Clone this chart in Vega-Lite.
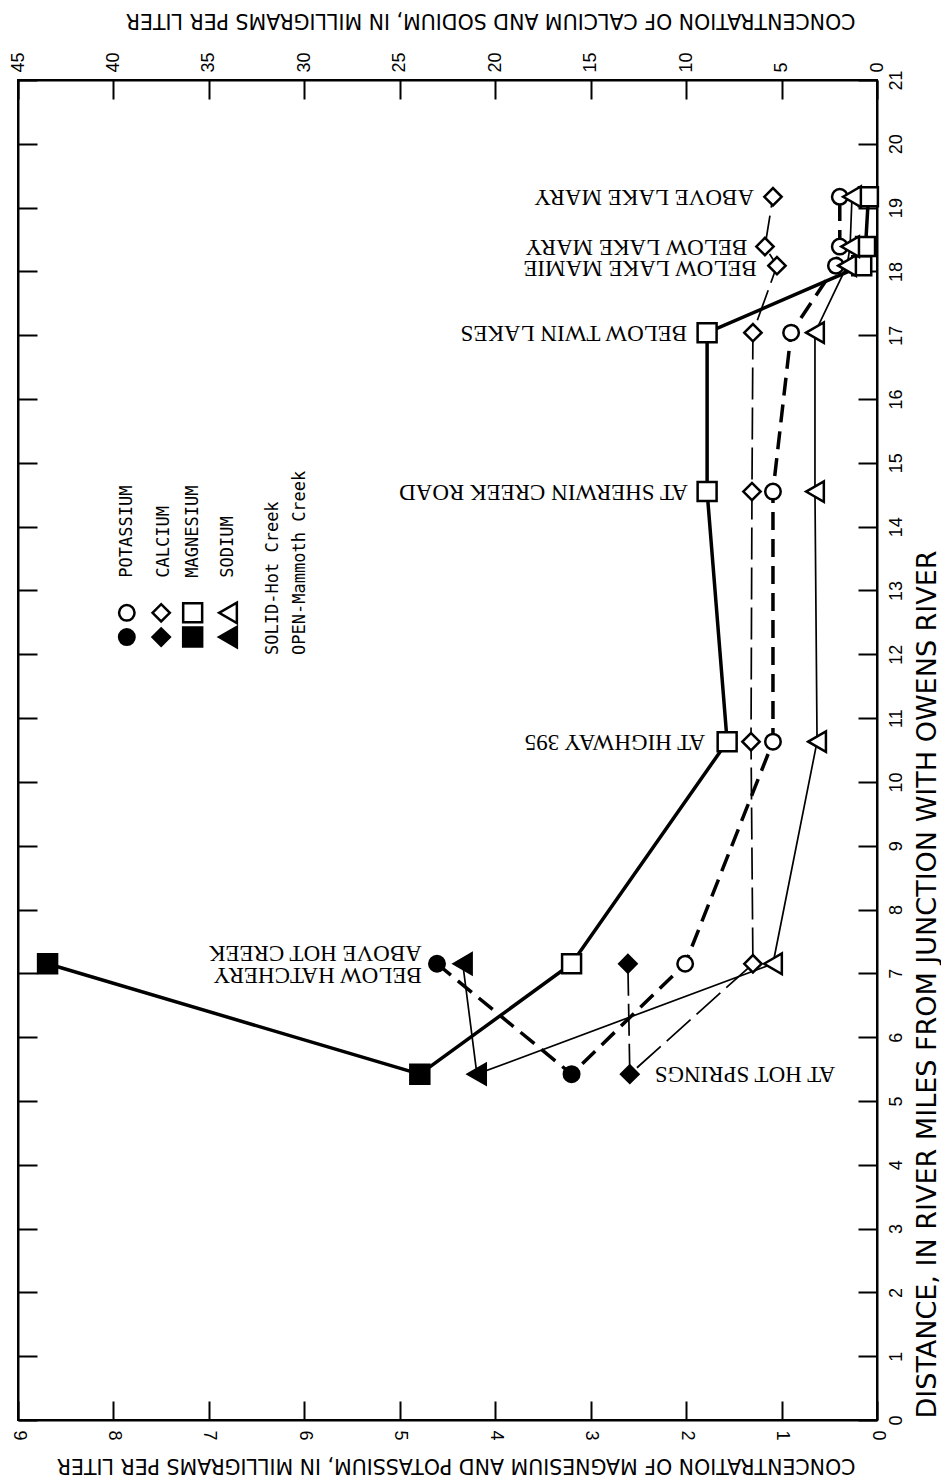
{
  "$schema": "https://vega.github.io/schema/vega-lite/v6.json",
  "width": 859,
  "height": 1340,
  "autosize": {"type": "none"},
  "padding": {"left": 18, "top": 80, "right": 64, "bottom": 60},
  "background": "white",
  "config": {
    "view": {"stroke": "black", "strokeWidth": 2},
    "axis": {
      "grid": false,
      "domainColor": "black",
      "domainWidth": 2,
      "tickColor": "black",
      "tickWidth": 2,
      "labelFont": "Liberation Sans",
      "labelFontSize": 18,
      "labelColor": "black",
      "format": "d",
      "titleFont": "DejaVu Sans",
      "titleFontSize": 20.5,
      "titleFontWeight": "normal",
      "titleColor": "black"
    }
  },
  "datasets": {
    "chem": [
      {"creek": "Hot Creek", "site": "Below Hatchery", "mile": 7.15, "element": "K", "value": 4.61, "seq": 1},
      {"creek": "Hot Creek", "site": "At Hot Springs", "mile": 5.42, "element": "K", "value": 3.2, "seq": 2},
      {"creek": "Mammoth Creek", "site": "Above Hot Creek", "mile": 7.15, "element": "K", "value": 2.01, "seq": 3},
      {"creek": "Mammoth Creek", "site": "At Highway 395", "mile": 10.63, "element": "K", "value": 1.09, "seq": 4},
      {"creek": "Mammoth Creek", "site": "At Sherwin Creek Road", "mile": 14.55, "element": "K", "value": 1.09, "seq": 5},
      {"creek": "Mammoth Creek", "site": "Below Twin Lakes", "mile": 17.04, "element": "K", "value": 0.9, "seq": 6},
      {"creek": "Mammoth Creek", "site": "Below Lake Mamie", "mile": 18.09, "element": "K", "value": 0.43, "seq": 7},
      {"creek": "Mammoth Creek", "site": "Below Lake Mary", "mile": 18.39, "element": "K", "value": 0.39, "seq": 8},
      {"creek": "Mammoth Creek", "site": "Above Lake Mary", "mile": 19.17, "element": "K", "value": 0.39, "seq": 9},

      {"creek": "Hot Creek", "site": "Below Hatchery", "mile": 7.15, "element": "Mg", "value": 8.69, "seq": 1},
      {"creek": "Hot Creek", "site": "At Hot Springs", "mile": 5.42, "element": "Mg", "value": 4.79, "seq": 2},
      {"creek": "Mammoth Creek", "site": "Above Hot Creek", "mile": 7.15, "element": "Mg", "value": 3.2, "seq": 3},
      {"creek": "Mammoth Creek", "site": "At Highway 395", "mile": 10.63, "element": "Mg", "value": 1.57, "seq": 4},
      {"creek": "Mammoth Creek", "site": "At Sherwin Creek Road", "mile": 14.55, "element": "Mg", "value": 1.78, "seq": 5},
      {"creek": "Mammoth Creek", "site": "Below Twin Lakes", "mile": 17.04, "element": "Mg", "value": 1.78, "seq": 6},
      {"creek": "Mammoth Creek", "site": "Below Lake Mamie", "mile": 18.09, "element": "Mg", "value": 0.16, "seq": 7},
      {"creek": "Mammoth Creek", "site": "Below Lake Mary", "mile": 18.39, "element": "Mg", "value": 0.12, "seq": 8},
      {"creek": "Mammoth Creek", "site": "Above Lake Mary", "mile": 19.17, "element": "Mg", "value": 0.09, "seq": 9},

      {"creek": "Hot Creek", "site": "Below Hatchery", "mile": 7.15, "element": "Ca", "value": 13.05, "seq": 1},
      {"creek": "Hot Creek", "site": "At Hot Springs", "mile": 5.42, "element": "Ca", "value": 12.95, "seq": 2},
      {"creek": "Mammoth Creek", "site": "Above Hot Creek", "mile": 7.15, "element": "Ca", "value": 6.5, "seq": 3},
      {"creek": "Mammoth Creek", "site": "At Highway 395", "mile": 10.63, "element": "Ca", "value": 6.6, "seq": 4},
      {"creek": "Mammoth Creek", "site": "At Sherwin Creek Road", "mile": 14.55, "element": "Ca", "value": 6.55, "seq": 5},
      {"creek": "Mammoth Creek", "site": "Below Twin Lakes", "mile": 17.04, "element": "Ca", "value": 6.5, "seq": 6},
      {"creek": "Mammoth Creek", "site": "Below Lake Mamie", "mile": 18.09, "element": "Ca", "value": 5.24, "seq": 7},
      {"creek": "Mammoth Creek", "site": "Below Lake Mary", "mile": 18.39, "element": "Ca", "value": 5.87, "seq": 8},
      {"creek": "Mammoth Creek", "site": "Above Lake Mary", "mile": 19.17, "element": "Ca", "value": 5.45, "seq": 9},

      {"creek": "Hot Creek", "site": "Below Hatchery", "mile": 7.15, "element": "Na", "value": 21.7, "seq": 1},
      {"creek": "Hot Creek", "site": "At Hot Springs", "mile": 5.42, "element": "Na", "value": 20.96, "seq": 2},
      {"creek": "Mammoth Creek", "site": "Above Hot Creek", "mile": 7.15, "element": "Na", "value": 5.45, "seq": 3},
      {"creek": "Mammoth Creek", "site": "At Highway 395", "mile": 10.63, "element": "Na", "value": 3.14, "seq": 4},
      {"creek": "Mammoth Creek", "site": "At Sherwin Creek Road", "mile": 14.55, "element": "Na", "value": 3.25, "seq": 5},
      {"creek": "Mammoth Creek", "site": "Below Twin Lakes", "mile": 17.04, "element": "Na", "value": 3.25, "seq": 6},
      {"creek": "Mammoth Creek", "site": "Below Lake Mamie", "mile": 18.09, "element": "Na", "value": 1.57, "seq": 7},
      {"creek": "Mammoth Creek", "site": "Below Lake Mary", "mile": 18.39, "element": "Na", "value": 1.41, "seq": 8},
      {"creek": "Mammoth Creek", "site": "Above Lake Mary", "mile": 19.17, "element": "Na", "value": 1.31, "seq": 9}
    ],
    "labels": [
      {"label": "ABOVE LAKE MARY", "mile": 19.17, "value": 1.08},
      {"label": "BELOW LAKE MARY", "mile": 18.39, "value": 1.15},
      {"label": "BELOW LAKE MAMIE", "mile": 18.06, "value": 1.05},
      {"label": "BELOW TWIN LAKES", "mile": 17.04, "value": 1.78},
      {"label": "AT SHERWIN CREEK ROAD", "mile": 14.55, "value": 1.77},
      {"label": "AT HIGHWAY 395", "mile": 10.63, "value": 1.59},
      {"label": "ABOVE HOT CREEK", "mile": 7.32, "value": 4.56},
      {"label": "BELOW HATCHERY", "mile": 6.97, "value": 4.56},
      {"label": "AT HOT SPRINGS", "mile": 5.42, "value": 2.54}
    ],
    "legendSymbols": [
      {"element": "K", "creek": "Hot Creek", "mile": 12.27, "value": 7.86},
      {"element": "K", "creek": "Mammoth Creek", "mile": 12.65, "value": 7.86},
      {"element": "Ca", "creek": "Hot Creek", "mile": 12.27, "value": 7.5},
      {"element": "Ca", "creek": "Mammoth Creek", "mile": 12.65, "value": 7.5},
      {"element": "Mg", "creek": "Hot Creek", "mile": 12.27, "value": 7.17},
      {"element": "Mg", "creek": "Mammoth Creek", "mile": 12.65, "value": 7.17},
      {"element": "Na", "creek": "Hot Creek", "mile": 12.27, "value": 6.8},
      {"element": "Na", "creek": "Mammoth Creek", "mile": 12.65, "value": 6.8}
    ],
    "legendText": [
      {"text": "POTASSIUM", "mile": 13.2, "value": 7.86},
      {"text": "CALCIUM", "mile": 13.2, "value": 7.47},
      {"text": "MAGNESIUM", "mile": 13.2, "value": 7.17},
      {"text": "SODIUM", "mile": 13.2, "value": 6.8},
      {"text": "SOLID-Hot Creek", "mile": 11.99, "value": 6.33},
      {"text": "OPEN-Mammoth Creek", "mile": 11.99, "value": 6.05}
    ]
  },
  "layer": [
    {
      "layer": [
        {
          "data": {"name": "chem"},
          "transform": [{"filter": "datum.element === 'K'"}],
          "mark": {"type": "line", "color": "black", "strokeWidth": 3.5, "strokeDash": [18, 9]},
          "encoding": {
            "x": {
              "field": "value", "type": "quantitative",
              "scale": {"domain": [0, 9], "reverse": true, "nice": false, "zero": false},
              "axis": {
                "orient": "bottom",
                "values": [0, 1, 2, 3, 4, 5, 6, 7, 8, 9],
                "tickSize": -19,
                "labelAngle": 90,
                "labelAlign": "left",
                "labelBaseline": "middle",
                "labelPadding": 29,
                "title": "CONCENTRATION OF MAGNESIUM AND POTASSIUM, IN MILLIGRAMS PER LITER",
                "titleAngle": 180,
                "titleAlign": "left",
                "titleBaseline": "alphabetic",
                "titleX": 837,
                "titleY": 38
              }
            },
            "y": {
              "field": "mile", "type": "quantitative",
              "scale": {"domain": [0, 21], "nice": false, "zero": false},
              "axis": {
                "orient": "right",
                "values": [0, 1, 2, 3, 4, 5, 6, 7, 8, 9, 10, 11, 12, 13, 14, 15, 16, 17, 18, 19, 20, 21],
                "tickSize": -19,
                "labelAngle": 270,
                "labelAlign": "center",
                "labelBaseline": "top",
                "labelPadding": 29,
                "title": "DISTANCE, IN RIVER MILES FROM JUNCTION WITH OWENS RIVER",
                "titleAngle": 270,
                "titleFontSize": 27,
                "titleAlign": "left",
                "titleBaseline": "alphabetic",
                "titleX": 58,
                "titleY": 1338
              }
            },
            "order": {"field": "seq", "type": "quantitative"}
          }
        },
        {
          "data": {"name": "chem"},
          "transform": [{"filter": "datum.element === 'Mg'"}],
          "mark": {"type": "line", "color": "black", "strokeWidth": 3.5},
          "encoding": {
            "x": {"field": "value", "type": "quantitative"},
            "y": {"field": "mile", "type": "quantitative"},
            "order": {"field": "seq", "type": "quantitative"}
          }
        },
        {
          "data": {"name": "chem"},
          "transform": [{"filter": "datum.element === 'K' || datum.element === 'Mg'"}],
          "mark": {"type": "point", "stroke": "black", "strokeWidth": 2.5, "fillOpacity": 1, "opacity": 1},
          "encoding": {
            "x": {"field": "value", "type": "quantitative"},
            "y": {"field": "mile", "type": "quantitative"},
            "shape": {"field": "element", "type": "nominal", "scale": {"domain": ["K", "Ca", "Mg", "Na"], "range": ["circle", "diamond", "square", "triangle-left"]}, "legend": null},
            "size": {"field": "element", "type": "nominal", "scale": {"domain": ["K", "Ca", "Mg", "Na"], "range": [240, 420, 290, 300]}, "legend": null},
            "fill": {"field": "creek", "type": "nominal", "scale": {"domain": ["Hot Creek", "Mammoth Creek"], "range": ["black", "white"]}, "legend": null}
          }
        },
        {
          "data": {"name": "labels"},
          "transform": [{"filter": "datum.label !== 'AT HOT SPRINGS'"}],
          "mark": {"type": "text", "angle": 180, "align": "left", "baseline": "middle", "dx": 20, "font": "Liberation Serif", "fontSize": 23, "color": "black"},
          "encoding": {
            "x": {"field": "value", "type": "quantitative"},
            "y": {"field": "mile", "type": "quantitative"},
            "text": {"field": "label"}
          }
        },
        {
          "data": {"name": "labels"},
          "transform": [{"filter": "datum.label === 'AT HOT SPRINGS'"}],
          "mark": {"type": "text", "angle": 180, "align": "right", "baseline": "middle", "dx": -20, "font": "Liberation Serif", "fontSize": 23, "color": "black"},
          "encoding": {
            "x": {"field": "value", "type": "quantitative"},
            "y": {"field": "mile", "type": "quantitative"},
            "text": {"field": "label"}
          }
        },
        {
          "data": {"name": "legendSymbols"},
          "mark": {"type": "point", "stroke": "black", "strokeWidth": 2.5, "fillOpacity": 1, "opacity": 1},
          "encoding": {
            "x": {"field": "value", "type": "quantitative"},
            "y": {"field": "mile", "type": "quantitative"},
            "shape": {"field": "element", "type": "nominal", "legend": null},
            "size": {"field": "element", "type": "nominal", "legend": null},
            "fill": {"field": "creek", "type": "nominal", "legend": null}
          }
        },
        {
          "data": {"name": "legendText"},
          "mark": {"type": "text", "angle": 270, "align": "left", "baseline": "middle", "font": "DejaVu Sans Mono", "fontSize": 17, "color": "black"},
          "encoding": {
            "x": {"field": "value", "type": "quantitative"},
            "y": {"field": "mile", "type": "quantitative"},
            "text": {"field": "text"}
          }
        }
      ]
    },
    {
      "layer": [
        {
          "data": {"name": "chem"},
          "transform": [{"filter": "datum.element === 'Ca'"}],
          "mark": {"type": "line", "color": "black", "strokeWidth": 1.7, "strokeDash": [32, 8]},
          "encoding": {
            "x": {
              "field": "value", "type": "quantitative",
              "scale": {"domain": [0, 45], "reverse": true, "nice": false, "zero": false},
              "axis": {
                "orient": "top",
                "values": [0, 5, 10, 15, 20, 25, 30, 35, 40, 45],
                "tickSize": -19,
                "labelAngle": 270,
                "labelAlign": "left",
                "labelBaseline": "middle",
                "labelPadding": 27,
                "title": "CONCENTRATION OF CALCIUM AND SODIUM, IN MILLIGRAMS PER LITER",
                "titleAngle": 180,
                "titleAlign": "left",
                "titleBaseline": "alphabetic",
                "titleX": 837,
                "titleY": -67
              }
            },
            "y": {
              "field": "mile", "type": "quantitative",
              "axis": {
                "orient": "left",
                "values": [0, 1, 2, 3, 4, 5, 6, 7, 8, 9, 10, 11, 12, 13, 14, 15, 16, 17, 18, 19, 20, 21],
                "tickSize": -19,
                "labels": false,
                "title": null
              }
            },
            "order": {"field": "seq", "type": "quantitative"}
          }
        },
        {
          "data": {"name": "chem"},
          "transform": [{"filter": "datum.element === 'Na'"}],
          "mark": {"type": "line", "color": "black", "strokeWidth": 1.7},
          "encoding": {
            "x": {"field": "value", "type": "quantitative"},
            "y": {"field": "mile", "type": "quantitative"},
            "order": {"field": "seq", "type": "quantitative"}
          }
        },
        {
          "data": {"name": "chem"},
          "transform": [{"filter": "datum.element === 'Ca' || datum.element === 'Na'"}],
          "mark": {"type": "point", "stroke": "black", "strokeWidth": 2.5, "fillOpacity": 1, "opacity": 1},
          "encoding": {
            "x": {"field": "value", "type": "quantitative"},
            "y": {"field": "mile", "type": "quantitative"},
            "shape": {"field": "element", "type": "nominal", "legend": null},
            "size": {"field": "element", "type": "nominal", "legend": null},
            "fill": {"field": "creek", "type": "nominal", "legend": null}
          }
        }
      ]
    }
  ],
  "resolve": {"scale": {"x": "independent"}, "axis": {"y": "independent"}}
}
